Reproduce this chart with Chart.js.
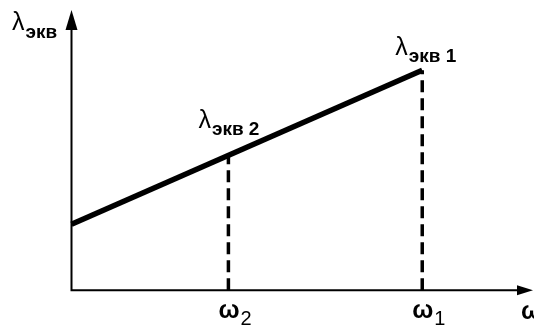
<!DOCTYPE html>
<html>
<head>
<meta charset="utf-8">
<script src="https://cdn.jsdelivr.net/npm/chart.js@4"></script>
<style>
  html, body { margin: 0; padding: 0; background: #fff; }
  canvas { display: block; }
</style>
</head>
<body>
<canvas id="chart" width="534" height="327"></canvas>
<script>
// main line lambda_eq(omega)
const lineOmega = [0, 76]
const lineLambda = [23.6, 78.5]
// the two marked points, dropped onto the omega axis
const dropOmega = [34, 76]
const dropLambda = [48.2, 78.5]
const dropNames = ['2', '1']

const FONT = '"Liberation Sans", Arial, sans-serif'

// draws "main" + subscript, left aligned at x, baseline y
function subText(ctx, x, y, main, sub, mainFont, subFont, drop) {
    ctx.font = mainFont
    ctx.fillText(main, x, y)
    const w = ctx.measureText(main).width
    ctx.font = subFont
    ctx.fillText(sub, x + w + 1, y + drop)
}

const axesAndLabels = {
    id: 'axesAndLabels',
    afterDatasetsDraw(chart) {
        const ctx = chart.ctx
        const xs = chart.scales.x
        const ys = chart.scales.y
        const x0 = xs.getPixelForValue(0)
        const y0 = ys.getPixelForValue(0)
        const xEnd = xs.getPixelForValue(xs.max)
        const yEnd = ys.getPixelForValue(ys.max)
        ctx.save()
        ctx.strokeStyle = '#000'
        ctx.fillStyle = '#000'
        ctx.lineWidth = 2
        ctx.beginPath()
        ctx.moveTo(x0, yEnd + 12)
        ctx.lineTo(x0, y0)
        ctx.lineTo(xEnd - 10, y0)
        ctx.stroke()
        // arrow heads
        ctx.beginPath()
        ctx.moveTo(x0, yEnd)
        ctx.lineTo(x0 - 6, yEnd + 20)
        ctx.lineTo(x0 + 6, yEnd + 20)
        ctx.closePath()
        ctx.fill()
        ctx.beginPath()
        ctx.moveTo(xEnd, y0)
        ctx.lineTo(xEnd - 16, y0 - 5)
        ctx.lineTo(xEnd - 16, y0 + 5)
        ctx.closePath()
        ctx.fill()

        const lamFont = `25px ${FONT}`
        const lamSub = `bold 19px ${FONT}`
        const omFont = `bold 25px ${FONT}`
        const omSub = `20px ${FONT}`
        ctx.textBaseline = 'alphabetic'
        ctx.textAlign = 'left'
        // axis names
        subText(ctx, 12, 30, 'λ', 'экв', lamFont, lamSub, 8)
        ctx.font = omFont
        ctx.fillText('ω', xEnd - 12, y0 + 29)

        const offX = [-30, -27]
        const offY = [-27, -15]
        dropOmega.forEach((w, i) => {
            const px = xs.getPixelForValue(w)
            const py = ys.getPixelForValue(dropLambda[i])
            subText(ctx, px - 10, y0 + 28, 'ω', dropNames[i], omFont, omSub, 7)
            subText(ctx, px + offX[i], py + offY[i], 'λ', 'экв ' + dropNames[i], lamFont, lamSub, 7)
        })
        ctx.restore()
    }
}

new Chart(document.getElementById('chart').getContext('2d'), {
    type: 'scatter',
    data: {
        datasets: [
            {
                data: lineOmega.map((w, i) => ({x: w, y: lineLambda[i]})),
                showLine: true,
                borderColor: '#000',
                borderWidth: 5.5,
                borderCapStyle: 'butt',
                pointRadius: 0,
                clip: false
            },
            ...dropOmega.map((w, i) => ({
                data: [{x: w, y: 0}, {x: w, y: dropLambda[i]}],
                showLine: true,
                borderColor: '#000',
                borderWidth: 3.5,
                borderDash: [12, 6],
                pointRadius: 0,
                clip: false
            }))
        ]
    },
    options: {
        responsive: false,
        animation: false,
        layout: {padding: {left: 71.5, right: 1, top: 10, bottom: 36.7}},
        scales: {
            x: {type: 'linear', min: 0, max: 100, display: false},
            y: {type: 'linear', min: 0, max: 100, display: false}
        },
        plugins: {legend: {display: false}, tooltip: {enabled: false}}
    },
    plugins: [axesAndLabels]
})
</script>
</body>
</html>
